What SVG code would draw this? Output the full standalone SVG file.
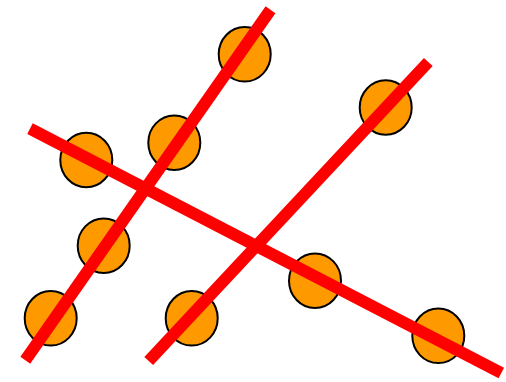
<svg xmlns="http://www.w3.org/2000/svg" width="506" height="382" viewBox="0 0 506 382">
<style>
.pt{fill:#ff9900;stroke:#000;stroke-width:2}
.ln{stroke:#ff0000;stroke-width:12;fill:none;stroke-linecap:butt}
</style>
<rect width="506" height="382" fill="#fff"/>
<g id="points">
<g id="p1"><ellipse class="pt" cx="244.7" cy="54.3" rx="26" ry="27.3"/></g>
<g id="p2"><ellipse class="pt" cx="174.3" cy="142.7" rx="26" ry="27.3"/></g>
<g id="p3"><ellipse class="pt" cx="86.3" cy="160" rx="26" ry="27.3"/></g>
<g id="p4"><ellipse class="pt" cx="103.7" cy="245.7" rx="26" ry="27.3"/></g>
<g id="p5"><ellipse class="pt" cx="50.7" cy="318.3" rx="26" ry="27.3"/></g>
<g id="p6"><ellipse class="pt" cx="191.7" cy="318.3" rx="26" ry="27.3"/></g>
<g id="p7"><ellipse class="pt" cx="385.7" cy="107.5" rx="26" ry="27.3"/></g>
<g id="p8"><ellipse class="pt" cx="315" cy="280.7" rx="26" ry="27.3"/></g>
<g id="p9"><ellipse class="pt" cx="438.3" cy="335.8" rx="26" ry="27.3"/></g>
</g>
<g id="connectors">
<line class="ln" x1="25.3" y1="360.3" x2="270.5" y2="9.7"/>
<line class="ln" x1="148.7" y1="361" x2="428.3" y2="62"/>
<line class="ln" x1="30" y1="128.7" x2="501.3" y2="373"/>
</g>
</svg>
